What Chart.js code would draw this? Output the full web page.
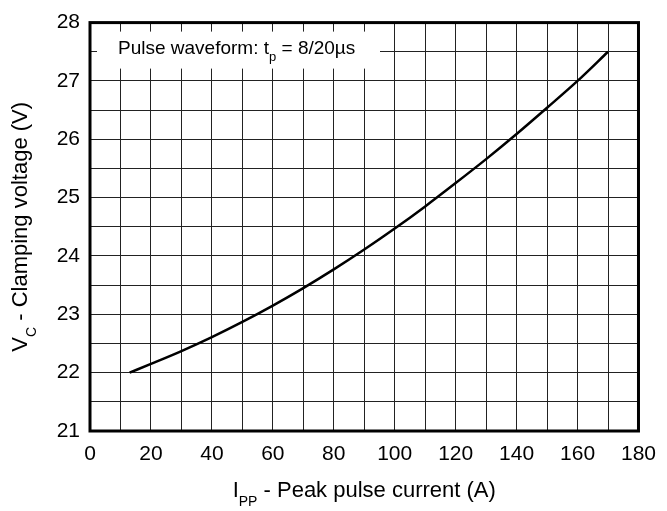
<!DOCTYPE html>
<html>
<head>
<meta charset="utf-8">
<script src="https://cdn.jsdelivr.net/npm/chart.js@4.4.0/dist/chart.umd.min.js"></script>
<style>
  html, body { margin: 0; background: #fff; }
  #wrap { width: 667px; height: 511px; }
</style>
</head>
<body>
<div id="wrap"><canvas id="chart-clamping"></canvas></div>
<script>
// values
const peakCurrent = [13, 20, 30, 40, 50, 60, 70, 80, 90, 100, 110, 120, 130, 140, 150, 160, 170];
const clampVoltage = [22.0, 22.15, 22.37, 22.61, 22.87, 23.15, 23.45, 23.77, 24.11, 24.47, 24.85, 25.25, 25.66, 26.09, 26.54, 27.0, 27.5];
const xTickLabels = [0, 20, 40, 60, 80, 100, 120, 140, 160, 180];
const yTickLabels = [21, 22, 23, 24, 25, 26, 27, 28];

const FONT = "'Liberation Sans', Arial, Helvetica, sans-serif";

// text made of normal + subscript parts
function richWidth(ctx, parts, size, subSize) {
    let w = 0;
    parts.forEach(p => {
        ctx.font = (p.sub ? subSize : size) + 'px ' + FONT;
        w += ctx.measureText(p.t).width;
    });
    return w;
}
function drawRich(ctx, parts, x, y, size, subSize, subDrop) {
    ctx.textBaseline = 'middle';
    ctx.textAlign = 'left';
    ctx.fillStyle = '#000';
    parts.forEach(p => {
        ctx.font = (p.sub ? subSize : size) + 'px ' + FONT;
        ctx.fillText(p.t, x, p.sub ? y + subDrop : y);
        x += ctx.measureText(p.t).width;
    });
}

const xTitle = [{ t: 'I' }, { t: 'PP', sub: true }, { t: ' - Peak pulse current (A)' }];
const yTitle = [{ t: 'V' }, { t: 'C', sub: true }, { t: ' - Clamping voltage (V)' }];
const note = [{ t: 'Pulse waveform: t' }, { t: 'p', sub: true }, { t: ' = 8/20µs' }];

const decorations = {
    id: 'decorations',
    afterDatasetsDraw(chart) {
        const ctx = chart.ctx;
        const a = chart.chartArea;
        ctx.save();
        // note box covering the grid
        ctx.fillStyle = '#fff';
        ctx.fillRect(a.left + 7, a.top + 9, 283, 37);
        drawRich(ctx, note, a.left + 28, a.top + 26, 19, 13, 9);
        ctx.restore();
    },
    afterDraw(chart) {
        const ctx = chart.ctx;
        const a = chart.chartArea;
        ctx.save();
        ctx.strokeStyle = '#000';
        ctx.lineWidth = 3;
        ctx.strokeRect(a.left, a.top, a.right - a.left, a.bottom - a.top);

        // x axis title
        let w = richWidth(ctx, xTitle, 22, 14);
        drawRich(ctx, xTitle, (a.left + a.right) / 2 - w / 2, 491, 22, 14, 11);

        // y axis title (rotated)
        w = richWidth(ctx, yTitle, 22, 14);
        ctx.translate(21, (a.top + a.bottom) / 2);
        ctx.rotate(-Math.PI / 2);
        drawRich(ctx, yTitle, -w / 2, 0, 22, 14, 11);
        ctx.restore();
    }
};

const ctx = document.getElementById('chart-clamping').getContext('2d');
const chart_clamping = new Chart(ctx, {
    type: 'line',
    data: {
        labels: peakCurrent,
        datasets: [{
            label: 'VC',
            data: peakCurrent.map((x, i) => ({ x: x, y: clampVoltage[i] })),
            borderColor: '#000',
            borderWidth: 2.5,
            pointRadius: 0,
            fill: false,
            cubicInterpolationMode: 'monotone'
        }]
    },
    options: {
        responsive: true,
        maintainAspectRatio: false,
        animation: false,
        layout: {
            padding: { top: 16, right: 24, left: 0, bottom: 0 }
        },
        plugins: {
            legend: { display: false },
            tooltip: { enabled: false }
        },
        scales: {
            x: {
                type: 'linear',
                min: 0,
                max: 180,
                afterFit: function (axis) { axis.height = 80; },
                ticks: {
                    stepSize: 10,
                    autoSkip: false,
                    maxRotation: 0,
                    padding: 11,
                    color: '#000',
                    font: { family: FONT, size: 21 },
                    callback: function (value) {
                        return xTickLabels.includes(value) ? String(value) : '';
                    }
                },
                grid: { color: '#222', lineWidth: 1, drawTicks: false },
                border: { display: false }
            },
            y: {
                min: 21,
                max: 28,
                afterFit: function (axis) { axis.width = 90; },
                ticks: {
                    stepSize: 0.5,
                    autoSkip: false,
                    padding: 10,
                    color: '#000',
                    font: { family: FONT, size: 21 },
                    callback: function (value) {
                        return yTickLabels.includes(value) ? String(value) : '';
                    }
                },
                grid: { color: '#222', lineWidth: 1, drawTicks: false },
                border: { display: false }
            }
        }
    },
    plugins: [decorations]
});
</script>
</body>
</html>
